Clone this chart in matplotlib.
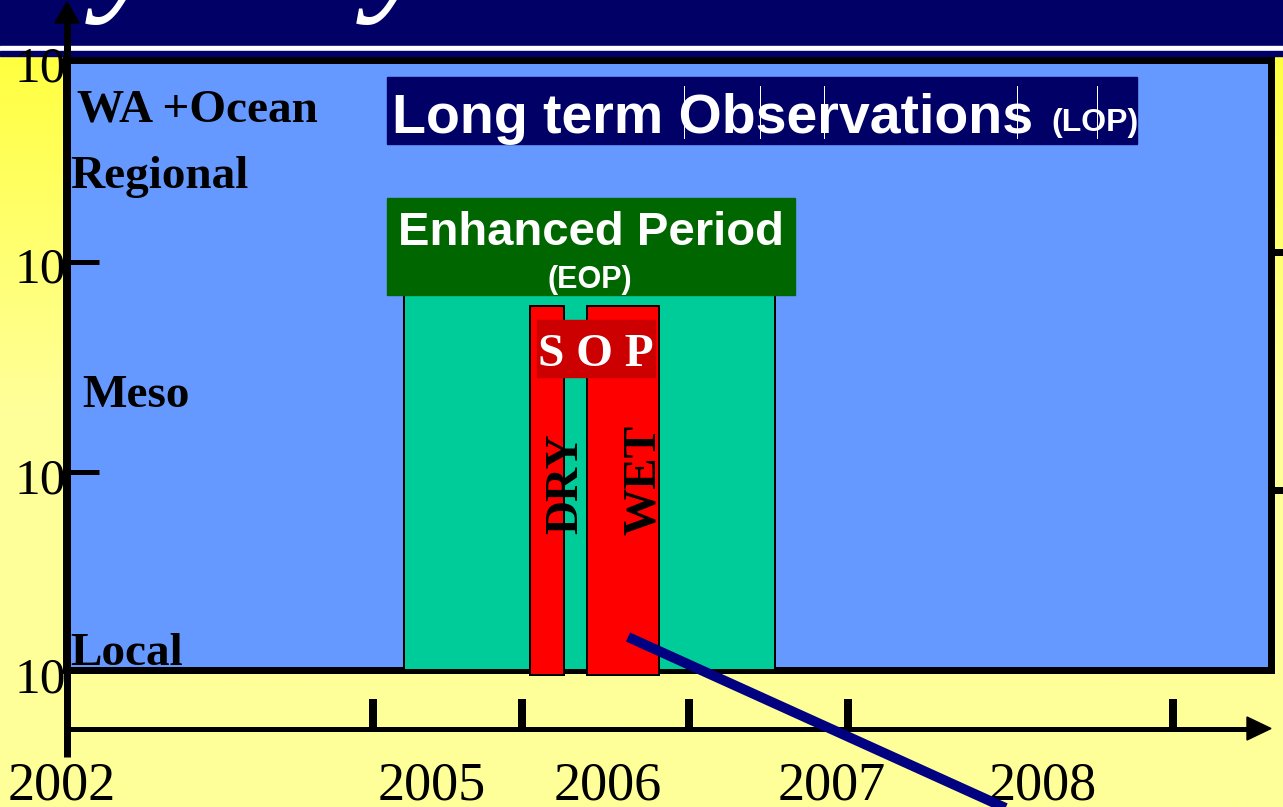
import numpy as np
import matplotlib
matplotlib.use("Agg")
import matplotlib.pyplot as plt
from matplotlib.patches import Rectangle, Polygon

# ---------------- data (schematic, slide pixel units) ----------------
year_labels = ["2002", "2005", "2006", "2007", "2008"]
year_label_x = [62, 432, 608, 832, 1043]
x_tick_pos = [373, 522, 689, 848, 1173]

scale_tick_labels = ["10", "10", "10", "10"]
scale_tick_y = [69, 270, 481, 680]
scale_tick_marks = [262, 472]

scale_names = ["WA +Ocean", "Regional", "Meso", "Local"]
scale_name_x = [77, 70, 82, 70]
scale_name_y = [122, 188, 407, 665]

period_names = ["EOP", "DRY", "WET"]
period_start = [404, 530, 587]
period_end = [775, 564, 659]
period_top = [295, 306, 306]
period_bottom = [670, 675, 675]
period_colors = ["#00CC99", "#FF0000", "#FF0000"]

lop_glitch_x = [684, 760, 824, 1017, 1097]

W, H = 1283, 807
fig = plt.figure(figsize=(W / 100, H / 100), dpi=100)
ax = fig.add_axes([0, 0, 1, 1])
ax.set_xlim(0, W)
ax.set_ylim(H, 0)
ax.axis("off")

px = 72 / 100  # points per pixel

# background yellow gradient
yy = np.linspace(0, 1, 200)
t = np.clip((yy * H - 55) / 350, 0, 1)
top_c = np.array([1.0, 1.0, 0.25])
bot_c = np.array([1.0, 1.0, 0.60])
grad = top_c[None, :] * (1 - t[:, None]) + bot_c[None, :] * t[:, None]
img = np.repeat(grad[:, None, :], 2, axis=1)
ax.imshow(img, extent=[0, W, H, 0], aspect="auto", zorder=0, interpolation="bilinear")

# banner
ax.add_patch(Rectangle((0, 0), W, 46, color="#000066", zorder=1))
ax.add_patch(Rectangle((0, 46), W, 5, color="white", zorder=1))
ax.add_patch(Rectangle((0, 51), W, 5, color="#000066", zorder=1))
# title descenders peeking in
for xg in [132, 403]:
    ax.text(xg, -8, "y", fontsize=110, family="Liberation Serif", style="italic",
            color="white", ha="center", va="baseline", zorder=2, clip_on=True)

# main blue panel with black frame
ax.add_patch(Rectangle((66, 59.5), 1205, 610.5, facecolor="#6699FF",
                       edgecolor="black", lw=7 * px, zorder=2))

# right side tick stubs
for yv in [252, 490]:
    ax.plot([1274, W], [yv, yv], color="black", lw=7 * px, zorder=3, solid_capstyle="butt")

# LOP box
ax.add_patch(Rectangle((387, 77), 750, 67, color="#000066", zorder=3))
ax.text(392, 133, "Long term Observations", fontsize=40, family="Liberation Sans",
        weight="bold", color="white", ha="left", va="baseline", zorder=4)
ax.text(1051, 131, "(LOP)", fontsize=23, family="Liberation Sans",
        weight="bold", color="white", ha="left", va="baseline", zorder=4)
for xg in lop_glitch_x:
    ax.plot([xg, xg], [86, 138], color="white", lw=1 * px, zorder=5)

# periods
for name, x0, x1, y0, y1, c in zip(period_names, period_start, period_end,
                                   period_top, period_bottom, period_colors):
    ax.add_patch(Rectangle((x0, y0), x1 - x0, y1 - y0, facecolor=c,
                           edgecolor="black", lw=2 * px, zorder=4))

# EOP header box
ax.add_patch(Rectangle((387, 198), 408, 97, color="#006600", zorder=5))
ax.text(591, 245, "Enhanced Period", fontsize=34, family="Liberation Sans",
        weight="bold", color="white", ha="center", va="baseline", zorder=6)
ax.text(590, 288, "(EOP)", fontsize=22, family="Liberation Sans",
        weight="bold", color="white", ha="center", va="baseline", zorder=6)

# SOP label
ax.add_patch(Rectangle((537, 320), 118, 57, color="#CC0000", zorder=6))
ax.text(596, 366, "S O P", fontsize=34, family="Liberation Serif",
        weight="bold", color="white", ha="center", va="baseline", zorder=7)

# DRY / WET rotated
ax.text(577, 484, "DRY", fontsize=34, family="Liberation Serif", weight="bold",
        color="black", rotation=90, rotation_mode="anchor", ha="center",
        va="baseline", zorder=7)
ax.text(655, 480, "WET", fontsize=34, family="Liberation Serif", weight="bold",
        color="black", rotation=90, rotation_mode="anchor", ha="center",
        va="baseline", zorder=7)

# scale names
for s, xv, yv in zip(scale_names, scale_name_x, scale_name_y):
    ax.text(xv, yv, s, fontsize=34, family="Liberation Serif", weight="bold",
            color="black", ha="left", va="baseline", zorder=6)

# y tick labels
for s, yv in zip(scale_tick_labels, scale_tick_y):
    ax.text(66, yv, s, fontsize=37, family="Liberation Serif", color="black",
            ha="right", va="center", zorder=3)

# y axis with arrow
ax.plot([67, 67], [757, 20], color="black", lw=7 * px, zorder=8, solid_capstyle="butt")
ax.add_patch(Polygon([[55, 23], [79, 23], [67, 2]], closed=True, color="black", zorder=8))
for yv in scale_tick_marks:
    ax.plot([67, 99], [yv, yv], color="black", lw=5 * px, zorder=8, solid_capstyle="butt")

# x axis with arrow
ax.plot([67, 1250], [729, 729], color="black", lw=5 * px, zorder=8, solid_capstyle="butt")
ax.add_patch(Polygon([[1247, 717], [1247, 740], [1271, 728.5]], closed=True,
                     color="black", zorder=8))
for xv in x_tick_pos:
    ax.plot([xv, xv], [699, 729], color="black", lw=8 * px, zorder=8, solid_capstyle="butt")

for s, xv in zip(year_labels, year_label_x):
    ax.text(xv, 800, s, fontsize=39, family="Liberation Serif", color="black",
            ha="center", va="baseline", zorder=8)

# pointer line
ax.plot([628, 1010], [637, 810], color="#000080", lw=10 * px, zorder=9,
        solid_capstyle="butt")

fig.savefig("out.png", dpi=100)
